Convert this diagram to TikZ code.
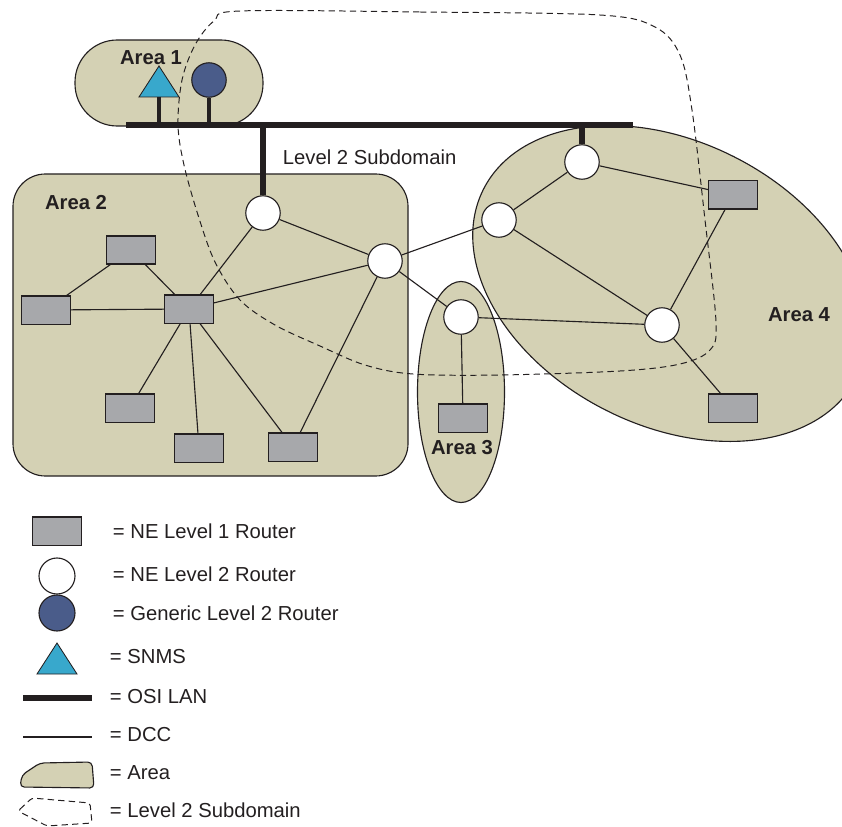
\documentclass[tikz,border=0pt]{standalone}
\usepackage{fontspec}
\setmainfont{Liberation Sans}
\usepackage{tikz}
\usetikzlibrary{positioning,calc}
\definecolor{AreaFill}{HTML}{D4D1B4}
\definecolor{RouterGray}{HTML}{A7A8AB}
\definecolor{GenericBlue}{HTML}{4A5C8A}
\definecolor{SnmsCyan}{HTML}{38A8CC}
\definecolor{InkDark}{HTML}{231F20}

\begin{document}
\begin{tikzpicture}[x=0.025cm,y=-0.025cm,
  every node/.style={font=\fontsize{14.4}{17}\selectfont,text=InkDark},
  arealabel/.style={font=\fontsize{14.4}{17}\selectfont\bfseries},
  areaedge/.style={draw=InkDark,line width=0.8pt},
  dcc/.style={draw=InkDark,line width=0.8pt},
  lan/.style={draw=InkDark,line width=3.6pt},
  subdom/.style={draw=InkDark,line width=0.7pt,dash pattern=on 4.5pt off 3pt},
  lone/.style={draw=InkDark,line width=0.8pt,fill=RouterGray,minimum width=34.5pt,minimum height=20pt,inner sep=0pt},
  ltwo/.style={circle,draw=InkDark,line width=0.8pt,fill=white,minimum size=24.5pt,inner sep=0pt},
  generic/.style={ltwo,fill=GenericBlue}]
  \useasboundingbox (0,0) rectangle (842,827);

  % areas: fills first, outlines after
  \path[fill=AreaFill,rounded corners=30pt] (75,40) rectangle (263,126);
  \path[fill=AreaFill,rounded corners=23pt] (13,174) rectangle (408,476);
  \path[fill=AreaFill] (461,392) ellipse [x radius=43.5,y radius=110.5];
  \path[fill=AreaFill,rotate around={-26.8:(670,283.5)}] (670,283.5) ellipse [x radius=209,y radius=142];
  \draw[areaedge,rounded corners=30pt] (75,40) rectangle (263,126);
  \draw[areaedge,rounded corners=23pt] (13,174) rectangle (408,476);
  \draw[areaedge] (461,392) ellipse [x radius=43.5,y radius=110.5];
  \draw[areaedge,rotate around={-26.8:(670,283.5)}] (670,283.5) ellipse [x radius=209,y radius=142];

  \node[arealabel] (a1lbl) at (151,58) {Area 1};
  \node[arealabel] (a2lbl) at (76,203) {Area 2};
  \node[arealabel] (a3lbl) at (462,448) {Area 3};
  \node[arealabel] (a4lbl) at (799,315) {Area 4};

  % level 2 subdomain
  \draw[subdom] plot[smooth cycle,tension=0.55] coordinates {
    (240,11) (420,12) (600,15) (655,27) (680,55) (692,110) (705,220)
    (716,322) (710,350) (680,364) (620,371) (500,375) (413,374) (365,365)
    (320,346) (275,325) (240,300) (215,262) (198,215) (184,165) (178,125)
    (182,80) (195,45) (214,21)};
  \node[anchor=west] (l2lbl) at (278,157) {Level 2 Subdomain};

  % OSI LAN
  \coordinate (busL) at (126,125);
  \coordinate (busR) at (633,125);
  \draw[lan] (busL) -- (busR);

  % routers
  \node[generic] (gen) at (209,80) {};
  \coordinate (snms) at (159,97);
  \node[ltwo] (a2c1) at (263,213) {};
  \node[ltwo] (a2c2) at (385,261) {};
  \node[lone] (a2r1) at (131,250) {};
  \node[lone] (a2r2) at (46,310) {};
  \node[lone] (a2r3) at (189,309) {};
  \node[lone] (a2r4) at (130,408) {};
  \node[lone] (a2r5) at (199,448) {};
  \node[lone] (a2r6) at (293,447) {};
  \node[ltwo] (a3c) at (461,317) {};
  \node[lone] (a3r) at (463,418) {};
  \node[ltwo] (a4c1) at (582,162) {};
  \node[ltwo] (a4c2) at (499,220) {};
  \node[ltwo] (a4c3) at (662,325) {};
  \node[lone] (a4r1) at (733,195) {};
  \node[lone] (a4r2) at (733,408) {};

  \draw[fill=SnmsCyan,draw=InkDark,line width=0.6pt] ($(snms)+(-20,0)$) -- ($(snms)+(20,0)$) -- ($(snms)+(0,-31)$) -- cycle;
  \draw[lan,line width=3.2pt] (snms) -- (snms |- busL);
  \draw[lan,line width=3.2pt] (gen.south) -- (gen.south |- busL);
  \draw[lan] (a2c1.north) -- (a2c1.north |- busL);
  \draw[lan] (a4c1.north) -- (a4c1.north |- busL);

  % DCC links
  \foreach \u/\v in {a2r2/a2r1,a2r1/a2r3,a2r2/a2r3,a2r3/a2c1,a2r3/a2c2,a2c1/a2c2,
      a2r3/a2r4,a2r3/a2r5,a2r3/a2r6,a2c2/a2r6,a2c2/a4c2,a2c2/a3c,a3c/a3r,a3c/a4c3,
      a4c1/a4c2,a4c1/a4r1,a4c2/a4c3,a4r1/a4c3,a4c3/a4r2}
    \draw[dcc] (\u) -- (\v);

  % legend
  \node[lone] (k1) at (57,531) {};
  \node[anchor=west] (k1t) at (108,531) {= NE Level 1 Router};
  \node[ltwo,minimum size=25.6pt] (k2) at (57,576) {};
  \node[anchor=west] (k2t) at (108,574) {= NE Level 2 Router};
  \node[generic,minimum size=25.6pt] (k3) at (57,613) {};
  \node[anchor=west] (k3t) at (108,613) {= Generic Level 2 Router};
  \coordinate (k4) at (57,674);
  \draw[fill=SnmsCyan,draw=InkDark,line width=0.6pt] ($(k4)+(-20,0)$) -- ($(k4)+(20,0)$) -- ($(k4)+(0,-31)$) -- cycle;
  \node[anchor=west] (k4t) at (105,657) {= SNMS};
  \coordinate (k5a) at (23,698);
  \coordinate (k5b) at (92,698);
  \draw[lan] (k5a) -- (k5b);
  \node[anchor=west] (k5t) at (105,697) {= OSI LAN};
  \coordinate (k6a) at (23,737);
  \coordinate (k6b) at (92,737);
  \draw[dcc] (k6a) -- (k6b);
  \node[anchor=west] (k6t) at (105,735) {= DCC};
  \draw[areaedge,fill=AreaFill,rounded corners=3pt] (20,787) -- (22,775) -- (40,763) -- (92,762) -- (94,788) -- cycle;
  \node[anchor=west] (k7t) at (105,773) {= Area};
  \draw[subdom,rounded corners=2pt] (18,811) -- (32,798) -- (90,803) -- (92,823) -- (47,826) -- cycle;
  \node[anchor=west] (k8t) at (105,810) {= Level 2 Subdomain};
\end{tikzpicture}
\end{document}
